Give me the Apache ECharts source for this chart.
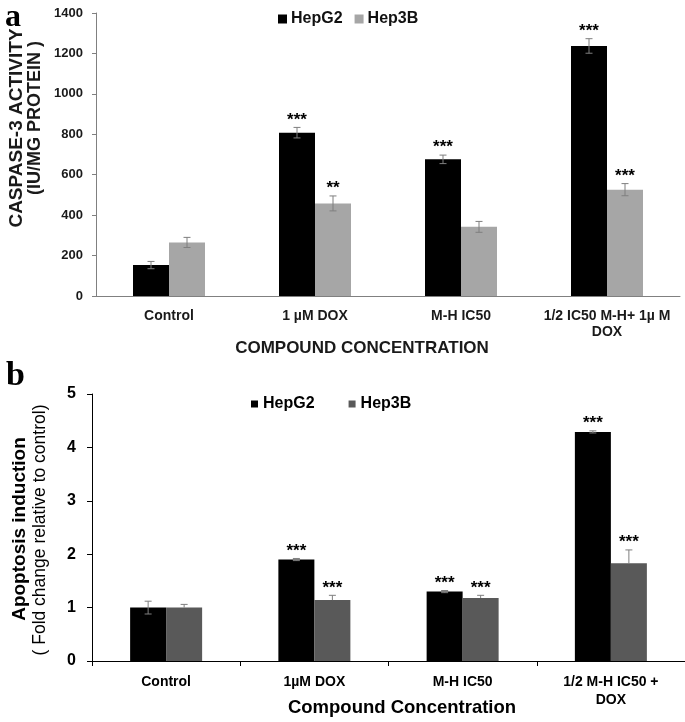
<!DOCTYPE html>
<html>
<head>
<meta charset="utf-8">
<script src="https://cdn.jsdelivr.net/npm/echarts@6/dist/echarts.min.js"></script>
<style>
html,body{margin:0;padding:0;background:#fff;}
#chart{width:685px;height:722px;}
</style>
</head>
<body>
<div id="chart"></div>
<script>
// ---- Panel a data ----
const catsA = ['Control', '1 µM DOX', 'M-H IC50', '1/2 IC50 M-H+ 1µ M\nDOX'];
const hepG2A = [153, 808, 676, 1237];
const hepG2ErrA = [18, 26, 21, 36];
const hep3BA = [265, 458, 342, 526];
const hep3BErrA = [25, 37, 27, 30];
const sigG2A = ['', '***', '***', '***'];
const sig3BA = ['', '**', '', '***'];
const ticksA = [0, 200, 400, 600, 800, 1000, 1200, 1400];

// ---- Panel b data ----
const catsB = ['Control', '1µM DOX', 'M-H IC50', '1/2 M-H IC50 +\nDOX'];
const hepG2B = [1.0, 1.9, 1.3, 4.29];
const hepG2ErrB = [0.12, 0.02, 0.02, 0.02];
const hep3BB = [1.0, 1.14, 1.18, 1.83];
const hep3BErrB = [0.06, 0.09, 0.05, 0.25];
const sigG2B = ['', '***', '***', '***'];
const sig3BB = ['', '***', '***', '***'];
const ticksB = [0, 1, 2, 3, 4, 5];

const FONT = '"Liberation Sans", Arial, sans-serif';

function errRender(vals, errs, sigs, offset, upperOnly) {
  return function (params, api) {
    const i = params.dataIndex;
    const v = vals[i], e = errs[i];
    const top = api.coord([i, v + e]);
    const bot = api.coord([i, upperOnly ? v : v - e]);
    const x = top[0] + offset;
    const cap = 3.5;
    const st = {stroke: '#7f7f7f', lineWidth: 1};
    const children = [
      {type: 'line', shape: {x1: x, y1: top[1], x2: x, y2: bot[1]}, style: st},
      {type: 'line', shape: {x1: x - cap, y1: top[1], x2: x + cap, y2: top[1]}, style: st}
    ];
    if (!upperOnly) {
      children.push({type: 'line', shape: {x1: x - cap, y1: bot[1], x2: x + cap, y2: bot[1]}, style: st});
    }
    if (sigs[i]) {
      children.push({type: 'text', style: {text: sigs[i], x: x, y: top[1] + 1, textAlign: 'center', textVerticalAlign: 'bottom', font: 'bold 17px ' + FONT, fill: '#000'}});
    }
    return {type: 'group', children: children};
  };
}

const chart = echarts.init(document.getElementById('chart'), null, {renderer: 'canvas'});

const option = {
  backgroundColor: '#fff',
  animation: false,
  legend: [
    {
      left: 273, top: 6, itemWidth: 9, itemHeight: 9, itemGap: 12, selectedMode: false,
      icon: 'rect',
      textStyle: {fontFamily: FONT, fontWeight: 'bold', fontSize: 16, color: '#111', padding: [0, 0, 0, -1]},
      data: [{name: 'HepG2', itemStyle: {color: '#000'}}, {name: 'Hep3B', itemStyle: {color: '#a6a6a6'}}]
    },
    {
      left: 246, top: 391, itemWidth: 7, itemHeight: 7, itemGap: 34, selectedMode: false,
      icon: 'rect',
      textStyle: {fontFamily: FONT, fontWeight: 'bold', fontSize: 16, color: '#000'},
      data: [{name: 'HepG2', itemStyle: {color: '#000'}}, {name: 'Hep3B', itemStyle: {color: '#595959'}}]
    }
  ],
  grid: [
    {left: 96, top: 13, width: 584, height: 283},
    {left: 92, top: 394, width: 618, height: 267}
  ],
  xAxis: [
    {
      type: 'category', gridIndex: 0, data: catsA,
      axisLine: {lineStyle: {color: '#808080', width: 1}},
      axisTick: {show: false},
      axisLabel: {fontFamily: FONT, fontWeight: 'bold', fontSize: 14, color: '#1a1a1a', margin: 12, lineHeight: 16, interval: 0}
    },
    {
      type: 'category', gridIndex: 1, data: catsB,
      axisLine: {lineStyle: {color: '#000', width: 1}},
      axisTick: {show: true, length: 5, lineStyle: {color: '#000'}},
      axisLabel: {fontFamily: FONT, fontWeight: 'bold', fontSize: 14, color: '#000', margin: 12, lineHeight: 18, interval: 0}
    }
  ],
  yAxis: [
    {
      type: 'value', gridIndex: 0, min: ticksA[0], max: ticksA[ticksA.length - 1], interval: 200,
      axisLine: {show: true, lineStyle: {color: '#808080'}},
      axisTick: {show: true, length: 4, lineStyle: {color: '#808080'}},
      splitLine: {show: false},
      axisLabel: {fontFamily: FONT, fontWeight: 'bold', fontSize: 13, color: '#1a1a1a', margin: 13, formatter: v => String(v)}
    },
    {
      type: 'value', gridIndex: 1, min: ticksB[0], max: ticksB[ticksB.length - 1], interval: 1,
      axisLine: {show: true, lineStyle: {color: '#000'}},
      axisTick: {show: true, length: 5, lineStyle: {color: '#000'}},
      splitLine: {show: false},
      axisLabel: {fontFamily: FONT, fontWeight: 'bold', fontSize: 16, color: '#000', margin: 16, formatter: v => String(v)}
    }
  ],
  series: [
    {name: 'HepG2', type: 'bar', xAxisIndex: 0, yAxisIndex: 0, data: hepG2A, barWidth: 36, barGap: '0%', itemStyle: {color: '#000'}},
    {name: 'Hep3B', type: 'bar', xAxisIndex: 0, yAxisIndex: 0, data: hep3BA, barWidth: 36, barGap: '0%', itemStyle: {color: '#a6a6a6'}},
    {name: 'HepG2', type: 'bar', xAxisIndex: 1, yAxisIndex: 1, data: hepG2B, barWidth: 36, barGap: '0%', itemStyle: {color: '#000'}},
    {name: 'Hep3B', type: 'bar', xAxisIndex: 1, yAxisIndex: 1, data: hep3BB, barWidth: 36, barGap: '0%', itemStyle: {color: '#595959'}},
    {name: 'errA1', type: 'custom', xAxisIndex: 0, yAxisIndex: 0, z: 5, clip: false,
      data: hepG2A.map((v, i) => [i, v]), encode: {x: 0, y: 1},
      renderItem: errRender(hepG2A, hepG2ErrA, sigG2A, -18, false)},
    {name: 'errA2', type: 'custom', xAxisIndex: 0, yAxisIndex: 0, z: 5, clip: false,
      data: hep3BA.map((v, i) => [i, v]), encode: {x: 0, y: 1},
      renderItem: errRender(hep3BA, hep3BErrA, sig3BA, 18, false)},
    {name: 'errB1', type: 'custom', xAxisIndex: 1, yAxisIndex: 1, z: 5, clip: false,
      data: hepG2B.map((v, i) => [i, v]), encode: {x: 0, y: 1},
      renderItem: errRender(hepG2B, hepG2ErrB, sigG2B, -18, false)},
    {name: 'errB2', type: 'custom', xAxisIndex: 1, yAxisIndex: 1, z: 5, clip: false,
      data: hep3BB.map((v, i) => [i, v]), encode: {x: 0, y: 1},
      renderItem: errRender(hep3BB, hep3BErrB, sig3BB, 18, true)}
  ],
  graphic: [
    {type: 'text', left: 5, top: 2, style: {text: 'a', font: 'bold 32px "Liberation Serif", serif', fill: '#000'}},
    {type: 'text', left: 6, top: 359, style: {text: 'b', font: 'bold 34px "Liberation Serif", serif', fill: '#000'}},
    {type: 'text', x: 17, y: 128, rotation: Math.PI / 2, style: {text: 'CASPASE-3 ACTIVITY', x: 0, y: 0, textAlign: 'center', textVerticalAlign: 'middle', font: 'bold 19px ' + FONT, fill: '#1a1a1a'}},
    {type: 'text', x: 35, y: 118, rotation: Math.PI / 2, style: {text: '(IU/MG PROTEIN )', x: 0, y: 0, textAlign: 'center', textVerticalAlign: 'middle', font: 'bold 18px ' + FONT, fill: '#1a1a1a'}},
    {type: 'text', x: 362, y: 348, style: {text: 'COMPOUND CONCENTRATION', x: 0, y: 0, textAlign: 'center', textVerticalAlign: 'middle', font: 'bold 17px ' + FONT, fill: '#1a1a1a'}},
    {type: 'text', x: 20, y: 529, rotation: Math.PI / 2, style: {text: 'Apoptosis induction', x: 0, y: 0, textAlign: 'center', textVerticalAlign: 'middle', font: 'bold 19px ' + FONT, fill: '#000'}},
    {type: 'text', x: 40, y: 530, rotation: Math.PI / 2, style: {text: '( Fold change relative to control)', x: 0, y: 0, textAlign: 'center', textVerticalAlign: 'middle', font: '17.5px ' + FONT, fill: '#000'}},
    {type: 'text', x: 402, y: 708, style: {text: 'Compound Concentration', x: 0, y: 0, textAlign: 'center', textVerticalAlign: 'middle', font: 'bold 18.5px ' + FONT, fill: '#000'}}
  ]
};
chart.setOption(option);
</script>
</body>
</html>
